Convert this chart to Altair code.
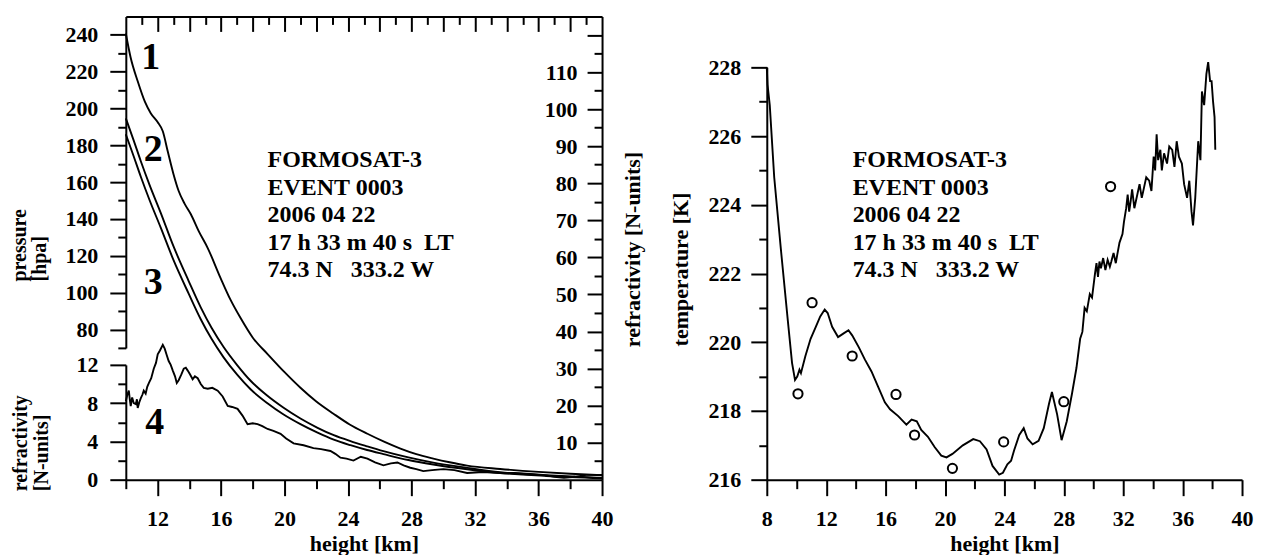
import altair as alt
import pandas as pd

FONT = "Liberation Serif"

# ---------------- left panel data ----------------
# curve 1 (refractivity, N-units)
c1_height = [10.0, 10.3, 10.75, 11.2, 11.57, 12.0, 12.33, 12.64, 13.0, 13.33, 13.7, 14.09, 14.6,
             15.16, 15.97, 16.6, 17.23, 18.0, 18.93, 20.0, 21.0, 22.0, 23.08, 24.1, 25.22, 26.3,
             27.3, 28.3, 29.37, 30.4, 31.5, 33.58, 36.0, 38.0, 40.0]
c1_value = [120.4, 114.0, 107.5, 102.0, 98.9, 96.5, 94.0, 88.6, 82.5, 77.9, 74.5, 71.7, 67.0,
            62.5, 54.4, 48.5, 43.6, 38.3, 33.9, 29.0, 24.8, 21.1, 17.8, 14.9, 12.4, 10.2,
            8.4, 6.9, 5.7, 4.7, 3.8, 2.9, 2.1, 1.6, 1.2]
# curves 2 and 3
c23_height = [10.0, 10.5, 10.94, 11.5, 12.2, 13.0, 13.96, 14.72, 15.4, 16.16, 17.0, 17.86, 18.9,
              19.94, 21.0, 22.08, 23.1, 24.15, 25.2, 26.23, 27.8, 29.37, 31.5, 33.58, 36.5, 40.0]
c2_value = [97.5, 91.5, 86.0, 79.5, 72.0, 63.0, 53.6, 46.5, 41.0, 35.8, 31.0, 26.7, 22.7,
            19.4, 16.5, 14.0, 12.0, 10.4, 9.0, 7.7, 6.0, 4.6, 3.2, 2.0, 1.2, 0.5]
c3_value = [93.2, 87.2, 81.8, 75.4, 68.0, 59.3, 50.2, 43.3, 38.0, 33.0, 28.4, 24.4, 20.7,
            17.6, 15.0, 12.7, 10.8, 9.3, 8.0, 6.9, 5.3, 4.1, 2.8, 1.8, 1.0, 0.4]
# curve 4 (refractivity, lower axis)
c4_height = [10.0, 10.1, 10.19, 10.25, 10.31, 10.4, 10.5, 10.63, 10.7, 10.75, 10.85, 10.94, 11.05,
             11.13, 11.25, 11.35, 11.45, 11.6, 11.76, 11.9, 12.01, 12.15, 12.33, 12.45, 12.58, 12.7,
             12.83, 12.96, 13.1, 13.21, 13.33, 13.5, 13.65, 13.78, 13.9, 14.05, 14.21, 14.35, 14.53,
             14.72, 14.91, 15.16, 15.45, 15.79, 16.1, 16.42, 16.7, 17.04, 17.35, 17.67, 18.0, 18.3,
             18.6, 18.93, 19.3, 19.75, 20.1, 20.57, 21.2, 21.82, 22.3, 22.89, 23.2, 23.52, 23.9,
             24.34, 24.8, 25.22, 25.7, 26.23, 26.7, 27.11, 27.5, 27.92, 28.3, 28.74, 29.3, 30.0,
             30.7, 31.5, 32.5, 33.58, 34.5, 35.5, 36.3, 37.0, 37.6, 38.3, 39.0, 40.0]
c4_value = [8.2, 8.9, 9.3, 8.4, 7.7, 8.6, 8.0, 7.9, 8.4, 7.5, 8.1, 8.5, 8.9,
            9.3, 9.0, 9.7, 10.1, 10.6, 11.6, 12.2, 13.1, 13.5, 14.1, 13.7, 13.0, 12.4,
            12.0, 11.4, 10.8, 10.1, 10.4, 11.0, 11.6, 11.7, 11.4, 11.0, 10.5, 10.8, 10.6,
            10.0, 9.6, 9.5, 9.6, 9.3, 8.7, 7.7, 7.6, 7.4, 6.7, 5.8, 5.9, 5.8,
            5.6, 5.3, 5.1, 4.8, 4.3, 3.8, 3.6, 3.3, 3.2, 3.0, 2.7, 2.3, 2.2,
            2.0, 2.4, 2.2, 1.8, 1.5, 1.7, 1.8, 1.5, 1.25, 1.1, 0.9, 1.0, 1.1,
            1.0, 0.7, 0.8, 0.7, 0.7, 0.6, 0.5, 0.3, 0.2, 0.3, 0.5, 0.5]

pressure_major = [80, 100, 120, 140, 160, 180, 200, 220, 240]
pressure_minor = [70, 90, 110, 130, 150, 170, 190, 210, 230]
nunits_major = [10, 20, 30, 40, 50, 60, 70, 80, 90, 100, 110, 120]
nunits_minor = [5, 15, 25, 35, 45, 55, 65, 75, 85, 95, 105, 115]
low_major = [0, 4, 8, 12]
low_minor = [2, 6, 10]
left_x_major = [12, 16, 20, 24, 28, 32, 36, 40]
left_x_minor = [10, 14, 18, 22, 26, 30, 34, 38]
top_major = [12, 14, 16, 18, 20, 22, 24, 26, 28, 30, 32, 34, 36, 38]
top_minor = [11, 13, 15, 17, 19, 21, 23, 25, 27, 29, 31, 33, 35, 37, 39]

curve_labels = ["1", "2", "3", "4"]
curve_label_h = [11.57, 11.73, 11.73, 11.82]
curve_label_n = [110.7, 85.9, 50.1, 12.4]

info_text = "FORMOSAT-3\nEVENT 0003\n2006 04 22\n17 h 33 m 40 s\u00a0 LT\n74.3 N\u00a0\u00a0 333.2 W"

# ---------------- right panel data ----------------
temp_height = [8.0, 8.05, 8.2, 8.5, 8.95, 9.4, 9.7, 9.9, 10.05, 10.2, 10.3, 10.6, 10.95, 11.3, 11.6,
               11.9, 12.1, 12.4, 12.8, 13.15, 13.5, 13.75, 14.2, 14.6, 15.05, 15.5, 15.95, 16.3,
               16.85, 17.4, 17.75, 18.1, 18.4, 18.85, 19.3, 19.75, 20.1, 20.5, 21.2, 21.9, 22.35,
               22.8, 23.2, 23.65, 23.9, 24.2, 24.45, 24.65, 25.0, 25.3, 25.55, 25.9, 26.3, 26.65,
               27.0, 27.2, 27.55, 27.85, 28.2, 28.55, 28.85, 29.1, 29.25, 29.4, 29.55, 29.75, 29.9,
               30.1, 30.2, 30.3, 30.4, 30.5, 30.65, 30.8, 30.95, 31.1, 31.2, 31.35, 31.5, 31.6,
               31.75, 31.95, 32.05, 32.2, 32.3, 32.4, 32.5, 32.6, 32.75, 32.95, 33.1, 33.25, 33.4,
               33.55, 33.75, 33.9, 34.05, 34.15, 34.25, 34.35, 34.5, 34.6, 34.75, 34.95, 35.1,
               35.3, 35.45, 35.6, 35.75, 35.95, 36.1, 36.3, 36.45, 36.6, 36.7, 36.85, 37.05, 37.2,
               37.3, 37.45, 37.6, 37.72, 37.85, 37.95, 38.05, 38.15, 38.2]
temp_value = [228.0, 227.5, 226.9, 224.8, 222.7, 220.7, 219.4, 218.9, 219.0, 219.2, 219.1, 219.6,
              220.1, 220.45, 220.75, 220.95, 220.85, 220.45, 220.15, 220.25, 220.35, 220.2,
              219.85, 219.5, 219.15, 218.7, 218.25, 218.05, 217.85, 217.6, 217.75, 217.7,
              217.45, 217.25, 216.95, 216.7, 216.65, 216.75, 217.0, 217.18, 217.12, 216.88,
              216.4, 216.15, 216.2, 216.45, 216.55, 216.85, 217.3, 217.5, 217.2, 217.03,
              217.13, 217.5, 218.2, 218.55, 217.9, 217.15, 217.7, 218.5, 219.25, 220.1, 220.3,
              221.0, 220.9, 221.4, 221.3, 222.0, 222.3, 221.9, 222.35, 222.15, 222.45, 222.1,
              222.4, 222.2, 222.35, 222.6, 222.3, 222.55, 222.9, 223.15, 223.5, 223.9, 224.3,
              223.8, 224.1, 224.45, 223.9, 224.3, 224.6, 224.2, 224.5, 224.8, 224.7, 224.4,
              225.4, 225.0, 226.05, 225.3, 225.6, 225.0, 225.5, 225.2, 225.7, 225.6, 225.1,
              225.85, 225.4, 225.2, 224.6, 224.2, 224.7, 223.8, 223.4, 224.2, 225.85, 225.3,
              227.3, 226.9, 227.8, 228.15, 227.6, 227.6, 227.0, 226.55, 225.6]

obs_height = [10.1, 11.05, 13.75, 16.7, 17.95, 20.5, 23.95, 28.0, 31.15]
obs_temp = [218.5, 221.15, 219.6, 218.48, 217.3, 216.33, 217.1, 218.27, 224.53]

right_x_major = [8, 12, 16, 20, 24, 28, 32, 36, 40]
right_x_minor = [10, 14, 18, 22, 26, 30, 34, 38]
temp_major = [216, 218, 220, 222, 224, 226, 228]
temp_minor = [217, 219, 221, 223, 225, 227]

# ---------------- build tables ----------------
df13 = pd.concat([
    pd.DataFrame({"h": c1_height, "n": c1_value, "curve": "1"}),
    pd.DataFrame({"h": c23_height, "n": c2_value, "curve": "2"}),
    pd.DataFrame({"h": c23_height, "n": c3_value, "curve": "3"}),
])
df4 = pd.DataFrame({"h": c4_height, "r": c4_value})
df_pmaj = pd.DataFrame({"p": pressure_major})
df_pmin = pd.DataFrame({"p": pressure_minor})
df_nmin = pd.DataFrame({"n": nunits_minor})
df_lmin = pd.DataFrame({"r": low_minor})
df_lab = pd.DataFrame({"h": curve_label_h, "n": curve_label_n, "t": curve_labels})
df_info_l = pd.DataFrame({"h": [18.93], "n": [84.3], "t": [info_text]})

df_temp = pd.DataFrame({"h": temp_height, "T": temp_value})
df_obs = pd.DataFrame({"h": obs_height, "T": obs_temp})
df_info_r = pd.DataFrame({"h": [13.78], "T": [225.09], "t": [info_text]})

W_L, W_R, H = 477, 476, 464

xs_l = alt.Scale(domain=[10, 40], nice=False, zero=False)
ns = alt.Scale(domain=[0, 125], nice=False, zero=False)
ps = alt.Scale(domain=[70, 250], range=[332, 0], nice=False, zero=False)
ls = alt.Scale(domain=[0, 12], range=[464, 349], nice=False, zero=False)

# curves 1-3 with the N-units axis drawn on the right edge (labels inside)
layer13 = alt.Chart(df13).mark_line(color="black", strokeWidth=1.9, interpolate="monotone").encode(
    x=alt.X("h:Q", scale=xs_l, axis=alt.Axis(orient="bottom", values=left_x_major, tickSize=16,
                                               labelPadding=13, title="height [km]", titleY=71,
                                               titleBaseline="alphabetic")),
    y=alt.Y("n:Q", scale=ns, axis=alt.Axis(orient="left", offset=-W_L, values=nunits_major, tickSize=15,
                                            labelPadding=10,
                                            labelExpr="datum.value > 115 ? '' : datum.label",
                                            title="refractivity [N-units]", titleX=38, titleY=233,
                                            titleAngle=270, titleAlign="center",
                                            titleBaseline="alphabetic")),
    detail="curve:N",
)

layer4 = alt.Chart(df4).mark_line(color="black", strokeWidth=1.9).encode(
    x=alt.X("h:Q", scale=xs_l, axis=alt.Axis(orient="bottom", values=left_x_minor, tickSize=9,
                                               labels=False, domain=False, title=None)),
    y=alt.Y("r:Q", scale=ls, axis=alt.Axis(orient="left", values=low_major, tickSize=16, labelPadding=12,
                                            title=["refractivity", "[N-units]"], titleX=-99, titleY=475,
                                            titleAngle=270, titleAlign="left", titleFontSize=20,
                                            titleBaseline="alphabetic", titleLineHeight=21)),
)

layer_p = alt.Chart(df_pmaj).mark_point(opacity=0).transform_calculate(hx="25").encode(
    x=alt.X("hx:Q", scale=xs_l, axis=alt.Axis(orient="bottom", offset=-H, values=top_major, tickSize=15,
                                                labels=False, title=None)),
    y=alt.Y("p:Q", scale=ps, axis=alt.Axis(orient="left", values=pressure_major, tickSize=16,
                                            labelPadding=12, title=["pressure", "[hpa]"], titleX=-100,
                                            titleY=265, titleAngle=270, titleAlign="left",
                                            titleFontSize=20,
                                            titleBaseline="alphabetic", titleLineHeight=20)),
)

layer_pm = alt.Chart(df_pmin).mark_point(opacity=0).transform_calculate(hx="25").encode(
    x=alt.X("hx:Q", scale=xs_l, axis=alt.Axis(orient="bottom", offset=-H, values=top_minor, tickSize=8,
                                                labels=False, domain=False, title=None)),
    y=alt.Y("p:Q", scale=ps, axis=alt.Axis(orient="left", values=pressure_minor, tickSize=8,
                                            labels=False, domain=False, title=None)),
)

layer_nm = alt.Chart(df_nmin).mark_point(opacity=0).transform_calculate(hx="25").encode(
    x=alt.X("hx:Q", scale=xs_l, axis=None),
    y=alt.Y("n:Q", scale=ns, axis=alt.Axis(orient="left", offset=-W_L, values=nunits_minor, tickSize=8,
                                            labels=False, domain=False, title=None)),
)

layer_lm = alt.Chart(df_lmin).mark_point(opacity=0).transform_calculate(hx="25").encode(
    x=alt.X("hx:Q", scale=xs_l, axis=None),
    y=alt.Y("r:Q", scale=ls, axis=alt.Axis(orient="left", values=low_minor, tickSize=8,
                                            labels=False, domain=False, title=None)),
)

layer_lab = alt.Chart(df_lab).mark_text(font=FONT, fontWeight="bold", fontSize=38, color="black",
                                        align="center", baseline="alphabetic").encode(
    x=alt.X("h:Q", scale=xs_l, axis=None),
    y=alt.Y("n:Q", scale=ns, axis=None),
    text="t:N",
)

layer_info_l = alt.Chart(df_info_l).mark_text(font=FONT, fontWeight="bold", fontSize=24, color="black",
                                              align="left", baseline="alphabetic", lineBreak="\n",
                                              lineHeight=27.5).encode(
    x=alt.X("h:Q", scale=xs_l, axis=None),
    y=alt.Y("n:Q", scale=ns, axis=None),
    text="t:N",
)

left = alt.layer(layer13, layer4, layer_p, layer_pm, layer_nm, layer_lm, layer_lab, layer_info_l).resolve_scale(
    y="independent"
).resolve_axis(x="independent", y="independent").properties(width=W_L, height=H)

# ---------------- right panel ----------------
xs_r = alt.Scale(domain=[8, 40], nice=False, zero=False)
ts = alt.Scale(domain=[216, 228], range=[464, 51], nice=False, zero=False)

layer_t = alt.Chart(df_temp).mark_line(color="black", strokeWidth=1.9).encode(
    x=alt.X("h:Q", scale=xs_r, axis=alt.Axis(orient="bottom", values=right_x_major, tickSize=16,
                                               labelPadding=13, title="height [km]", titleY=71,
                                               titleBaseline="alphabetic")),
    y=alt.Y("T:Q", scale=ts, axis=alt.Axis(orient="left", values=temp_major, tickSize=16, labelPadding=10,
                                            title="temperature [K]", titleX=-79, titleY=253,
                                            titleAngle=270, titleAlign="center",
                                            titleBaseline="alphabetic")),
)

layer_o = alt.Chart(df_obs).mark_point(shape="circle", size=85, filled=False, color="black",
                                       strokeWidth=2, opacity=1).encode(
    x=alt.X("h:Q", scale=xs_r, axis=alt.Axis(orient="bottom", values=right_x_minor, tickSize=9,
                                               labels=False, domain=False, title=None)),
    y=alt.Y("T:Q", scale=ts, axis=alt.Axis(orient="left", values=temp_minor, tickSize=8, labels=False,
                                            domain=False, title=None)),
)

layer_info_r = alt.Chart(df_info_r).mark_text(font=FONT, fontWeight="bold", fontSize=24, color="black",
                                              align="left", baseline="alphabetic", lineBreak="\n",
                                              lineHeight=27.5).encode(
    x=alt.X("h:Q", scale=xs_r, axis=None),
    y=alt.Y("T:Q", scale=ts, axis=None),
    text="t:N",
)

right = alt.layer(layer_t, layer_o, layer_info_r).resolve_axis(
    x="independent", y="independent").properties(width=W_R, height=H)

chart = alt.hconcat(left, right, spacing=26).properties(
    padding={"left": 2, "top": 7, "right": 5, "bottom": 0}, background="white"
).configure_view(stroke=None).configure_axis(
    grid=False, labelFont=FONT, labelFontWeight="bold", labelFontSize=22, labelColor="black",
    titleFont=FONT, titleFontWeight="bold", titleFontSize=22, titleColor="black",
    tickColor="black", domainColor="black", tickWidth=2, domainWidth=2, labelFlush=False,
    labelOverlap=False,
)

chart.save("out.html", embed_options={"renderer": "svg", "actions": False})
